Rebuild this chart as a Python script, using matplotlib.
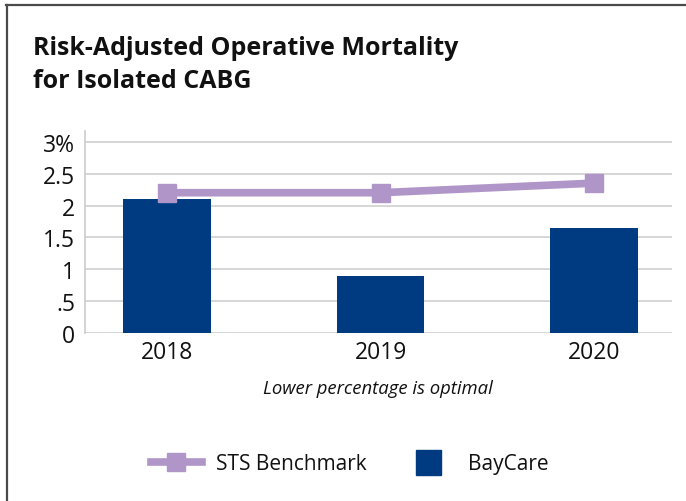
import matplotlib
matplotlib.use("Agg")
import matplotlib.pyplot as plt
from matplotlib.lines import Line2D

plt.rcParams['font.family'] = ['Open Sans', 'DejaVu Sans']

# data
years = ['2018', '2019', '2020']
baycare = [2.1, 0.9, 1.65]
sts_benchmark = [2.2, 2.2, 2.35]
y_ticks = [0, 0.5, 1, 1.5, 2, 2.5, 3]
y_tick_labels = ['0', '.5', '1', '1.5', '2', '2.5', '3%']

bar_color = '#003a80'
line_color = '#b096c8'
text_color = '#111111'

fig = plt.figure(figsize=(6.86, 5.02), dpi=100)

# frame lines on top and left
fig.add_artist(Line2D([0.009, 1.0], [0.989, 0.989], color='#4a4a4a', lw=1.6))
fig.add_artist(Line2D([0.0095, 0.0095], [0.0, 0.989], color='#4a4a4a', lw=1.6))

fig.text(0.048, 0.8904, 'Risk-Adjusted Operative Mortality', fontsize=18,
         fontweight='bold', va='baseline', ha='left', color=text_color)
fig.text(0.048, 0.824, 'for Isolated CABG', fontsize=18,
         fontweight='bold', va='baseline', ha='left', color=text_color)

ax = fig.add_axes([0.1239, 0.334, 0.8557, 0.4036])
x = list(range(len(years)))
ax.bar(x, baycare, width=0.41, color=bar_color, zorder=2)
ax.plot(x, sts_benchmark, color=line_color, lw=5.5, marker='s', markersize=13,
        zorder=3)

ax.set_xlim(-0.384, 2.365)
ax.set_ylim(0, 3.17)
ax.set_yticks(y_ticks)
ax.set_yticklabels(y_tick_labels)
ax.set_xticks(x)
ax.set_xticklabels(years)
ax.tick_params(length=0, labelsize=16.5, colors=text_color)
ax.tick_params(axis='y', pad=7)
ax.tick_params(axis='x', pad=5)
ax.grid(axis='y', color='#d0d0d0', lw=1.2, zorder=0)
for side in ['top', 'right', 'bottom']:
    ax.spines[side].set_visible(False)
ax.spines['left'].set_color('#cccccc')
ax.spines['left'].set_linewidth(1.2)

fig.text(0.551, 0.225, 'Lower percentage is optimal', fontsize=13.3,
         style='italic', ha='center', va='center', color=text_color)

handles = [Line2D([0], [0], color=line_color, lw=5.5, marker='s', markersize=13),
           Line2D([0], [0], color=bar_color, lw=0, marker='s', markersize=18)]
fig.legend(handles, ['STS Benchmark', 'BayCare'], loc='center',
           bbox_to_anchor=(0.5095, 0.075), ncol=2, frameon=False, fontsize=15,
           handlelength=2.45, columnspacing=1.73, handletextpad=0.67,
           labelcolor=text_color)

fig.savefig('out.png', dpi=100)
